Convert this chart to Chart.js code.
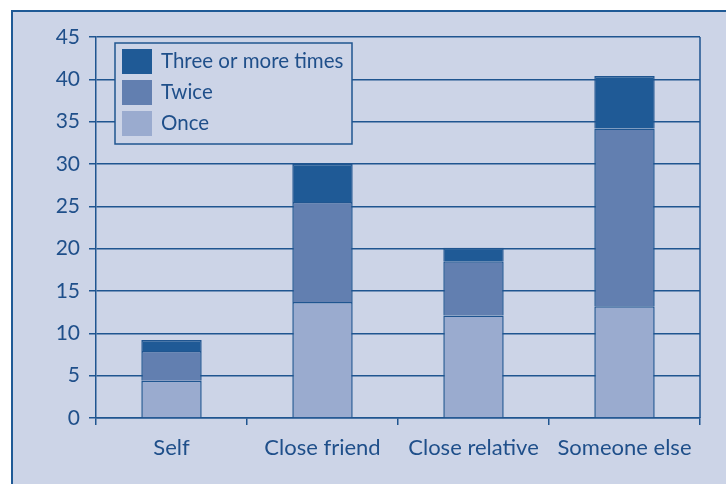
<!DOCTYPE html>
<html>
<head>
<meta charset="utf-8">
<script src="https://cdn.jsdelivr.net/npm/chart.js@4.4.1/dist/chart.umd.min.js"></script>
<style>
html,body{margin:0;padding:0;background:#fff;overflow:hidden;}
#frame{position:absolute;left:11px;top:10px;width:800px;height:600px;background:#ccd4e7;border:2px solid #1f5a96;}
#wrap{position:absolute;left:0;top:0;width:726px;height:484px;}
</style>
</head>
<body>
<div id="frame"></div>
<div id="wrap"><canvas id="chart"></canvas></div>
<script>
const categories=["Self","Close friend","Close relative","Someone else"];
const once=[4.4,13.7,12.1,13.2];
const twice=[3.5,11.8,6.4,21.0];
const threeOrMore=[1.3,4.5,1.6,6.2];
const yTicks=[0,5,10,15,20,25,30,35,40,45];// y axis labels

const dark="#1f5590";
const bg="#ccd4e7";
const font="Lato";

const boxLegend={
  id:"boxLegend",
  afterDatasetsDraw(chart){
    const ctx=chart.ctx, a=chart.chartArea;
    const x=a.left+19, y=a.top+6, w=237, h=101;
    ctx.save();
    ctx.fillStyle=bg;
    ctx.fillRect(x,y,w,h);
    ctx.strokeStyle=dark;
    ctx.lineWidth=1.5;
    ctx.strokeRect(x,y,w,h);
    chart.data.datasets.slice().reverse().forEach((ds,i)=>{
      const ry=y+6+i*31;
      ctx.fillStyle=ds.backgroundColor;
      ctx.fillRect(x+7,ry,30,25);
      ctx.fillStyle="#1f4f8a";
      ctx.font=`20.5px ${font}`;
      ctx.textBaseline="middle";
      ctx.fillText(ds.label,x+46,ry+12.5);
    });
    ctx.restore();
  }
};// legend box drawn inside the plot, top item first

const rightLine={
  id:"rightLine",
  beforeDatasetsDraw(chart){
    const ctx=chart.ctx, a=chart.chartArea;
    ctx.save();
    ctx.strokeStyle=dark;
    ctx.lineWidth=1.5;
    ctx.beginPath();
    ctx.moveTo(a.right,a.top);
    ctx.lineTo(a.right,a.bottom);
    ctx.stroke();
    ctx.restore();
  }
};// closing line on the right edge of the plot

new Chart(document.getElementById("chart"),{
  type:"bar",
  data:{
    labels:categories,
    datasets:[
      {label:"Once",data:once,backgroundColor:"#9aabcf"},
      {label:"Twice",data:twice,backgroundColor:"#627fb0"},
      {label:"Three or more times",data:threeOrMore,backgroundColor:"#1f5a96"}
    ].map(d=>Object.assign(d,{borderColor:dark,borderWidth:1.5,categoryPercentage:0.8,barPercentage:0.5}))
  },
  options:{
    responsive:true,
    maintainAspectRatio:false,
    animation:false,
    layout:{padding:{left:36,top:37,right:26,bottom:0}},
    plugins:{legend:{display:false},tooltip:{enabled:false}},
    scales:{
      x:{
        stacked:true,
        grid:{drawOnChartArea:false,color:dark,lineWidth:1.5,tickLength:7},
        border:{color:dark,width:1.5},
        ticks:{color:"#1f4f8a",font:{family:font,size:22},padding:10},
        afterFit:s=>{s.height=66;}
      },
      y:{
        stacked:true,
        min:0,max:45,
        afterBuildTicks:s=>{s.ticks=yTicks.map(v=>({value:v}));},
        grid:{color:dark,lineWidth:1.5,tickLength:7},
        border:{color:dark,width:1.5},
        ticks:{color:"#1f4f8a",font:{family:font,size:21},padding:9},
        afterFit:s=>{s.width=60;}
      }
    }
  },
  plugins:[rightLine,boxLegend]
});
</script>
</body>
</html>
